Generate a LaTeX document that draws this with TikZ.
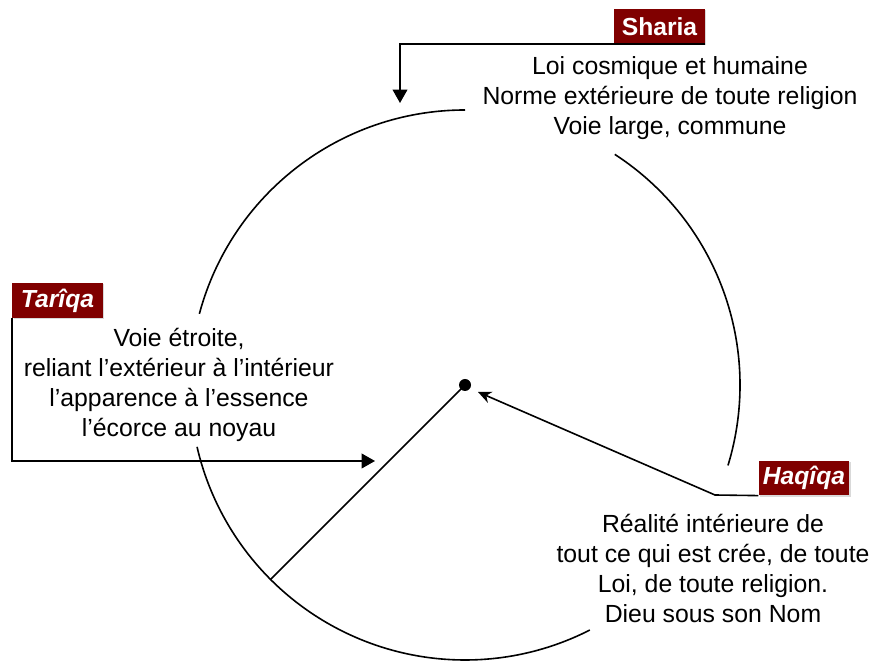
\documentclass[tikz,border=0pt]{standalone}
\usepackage{fontspec}
\setmainfont{Liberation Sans}
\usepackage{tikz}
\usetikzlibrary{arrows.meta,positioning,calc,shadows}
\definecolor{bordeaux}{RGB}{128,0,0}
\tikzset{
  etiq/.style={fill=bordeaux,text=white,font=\bfseries\fontsize{18.5}{20}\selectfont,
    minimum width=68pt,minimum height=26pt,inner sep=0pt,
    drop shadow={opacity=0.3,shadow xshift=1pt,shadow yshift=-1pt}},
  texte/.style={align=center,font=\fontsize{18.6}{22.5}\selectfont,inner sep=0pt},
  fleche/.style={line width=1.2pt,-{Triangle[length=10pt,width=11pt]}},
  fleche2/.style={line width=1.2pt,-{Stealth[length=10pt,width=9pt]}},
  cercle/.style={line width=1.2pt},
  point/.style={circle,fill,inner sep=0pt,minimum size=9pt},
}
\begin{document}
\begin{tikzpicture}[x=0.75pt,y=0.75pt]
  \useasboundingbox (0,0) rectangle (874,660);
  % centre du cercle
  \coordinate (C) at (465,275);
  \node[point] (centre) at (C) {};
  \draw[cercle] ($(C)+(165:275)$) arc[start angle=165,end angle=90,radius=275];
  \draw[cercle] ($(C)+(57:275)$) arc[start angle=57,end angle=-17,radius=275];
  \draw[cercle] ($(C)+(-63:275)$) arc[start angle=-63,end angle=-167,radius=275];
  \coordinate (bord) at ($(C)+(225:275)$);
  \draw[cercle] (centre.center) -- (bord);
  % Sharia
  \node[etiq] (sharia) at (659.5,633.5) {Sharia};
  \node[texte] (tsharia) at (670,562) {Loi cosmique et humaine\\Norme extérieure de toute religion\\Voie large, commune};
  \coordinate (shBout) at (400,557);
  \draw[fleche] (sharia.south east) -| (shBout);
  % Tariqa
  \node[etiq,font=\bfseries\itshape\fontsize{18.5}{20}\selectfont] (tariqa) at (57.5,359.5) {Tarîqa};
  \node[texte] (ttariqa) at (179,275) {Voie étroite,\\reliant l’extérieur à l’intérieur\\l’apparence à l’essence\\l’écorce au noyau};
  \coordinate (taBout) at (375,199);
  \draw[fleche] (tariqa.south west) |- (taBout);
  % Haqiqa
  \node[etiq,font=\bfseries\itshape\fontsize{18.5}{20}\selectfont] (haqiqa) at (804,182) {Haqîqa};
  \node[texte] (thaqiqa) at (713,92) {Réalité intérieure de\\tout ce qui est crée, de toute\\Loi, de toute religion.\\Dieu sous son Nom};
  \coordinate (haCoin) at (715,165);
  \coordinate (haBout) at (478,268);
  \draw[fleche2] (haqiqa.south west) -- (haCoin) -- (haBout);
\end{tikzpicture}
\end{document}
